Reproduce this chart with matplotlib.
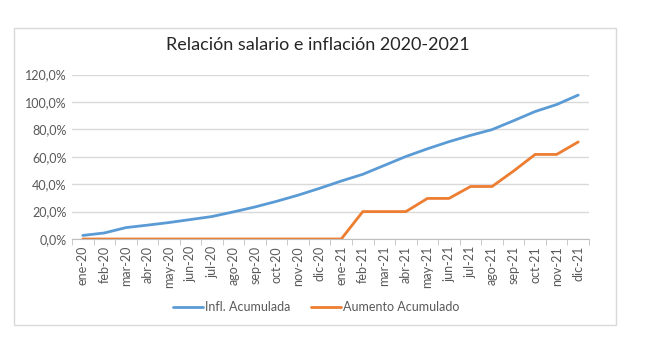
import matplotlib
matplotlib.use("Agg")
import matplotlib.pyplot as plt
from matplotlib.patches import Rectangle
from matplotlib.ticker import FuncFormatter, MultipleLocator
import numpy as np

months = ["ene-20", "feb-20", "mar-20", "abr-20", "may-20", "jun-20", "jul-20", "ago-20",
          "sep-20", "oct-20", "nov-20", "dic-20", "ene-21", "feb-21", "mar-21", "abr-21",
          "may-21", "jun-21", "jul-21", "ago-21", "sep-21", "oct-21", "nov-21", "dic-21"]
infl_acumulada = [2.6, 4.4, 8.3, 10.1, 12.0, 14.2, 16.4, 19.8, 23.4, 27.5, 32.0, 37.0,
                  42.3, 47.2, 53.7, 60.2, 65.8, 71.0, 75.6, 79.8, 86.3, 93.0, 98.1, 105.0]
aumento_acumulado = [0, 0, 0, 0, 0, 0, 0, 0, 0, 0, 0, 0,
                     0, 20.0, 20.0, 20.0, 29.6, 29.6, 38.3, 38.3, 49.6, 61.7, 61.7, 70.8]

W, H = 660, 337
plt.rcParams["font.family"] = ["Lato", "DejaVu Sans"]
fig = plt.figure(figsize=(W / 100, H / 100), dpi=100)

# chart frame
fig.patches.append(Rectangle((14 / W, 1 - 325 / H), (616 - 14) / W, (325 - 28) / H,
                             transform=fig.transFigure, fill=False,
                             edgecolor="#D9D9D9", linewidth=1))

ax = fig.add_axes([72 / W, 1 - 239 / H, (589 - 72) / W, (239 - 74.5) / H])
x = np.arange(len(months))
ax.plot(x, infl_acumulada, color="#5B9BD5", linewidth=2.0, label="Infl. Acumulada",
        solid_capstyle="round")
ax.plot(x, aumento_acumulado, color="#ED7D31", linewidth=2.0, label="Aumento Acumulado",
        solid_capstyle="round")

ax.set_xlim(-0.5, len(months) - 0.5)
ax.set_ylim(0, 120)
ax.yaxis.set_major_locator(MultipleLocator(20))
ax.yaxis.set_major_formatter(FuncFormatter(lambda v, p: f"{v:.1f}%".replace(".", ",")))
ax.grid(axis="y", color="#D9D9D9", linewidth=1)
ax.set_axisbelow(True)
for side in ["top", "right", "left"]:
    ax.spines[side].set_visible(False)
ax.spines["bottom"].set_color("#BFBFBF")
ax.tick_params(axis="y", length=0, labelsize=9, labelcolor="#595959", pad=4)

ax.set_xticks(x)
ax.set_xticklabels(months, rotation=90)
ax.set_xticks(np.arange(-0.5, len(months)), minor=True)
ax.tick_params(axis="x", which="major", length=0, labelsize=9, labelcolor="#595959", pad=5)
ax.tick_params(axis="x", which="minor", length=4, color="#BFBFBF")

fig.text(318 / W, 1 - 45 / H, "Relación salario e inflación 2020-2021", ha="center",
         va="center", fontsize=13, color="#262626")

fig.legend(loc="center", bbox_to_anchor=(316 / W, 1 - 307 / H), ncol=2, frameon=False,
           fontsize=9, labelcolor="#595959", handlelength=2.4, handletextpad=0.2,
           columnspacing=1.6)

fig.savefig("out.png", dpi=100)
